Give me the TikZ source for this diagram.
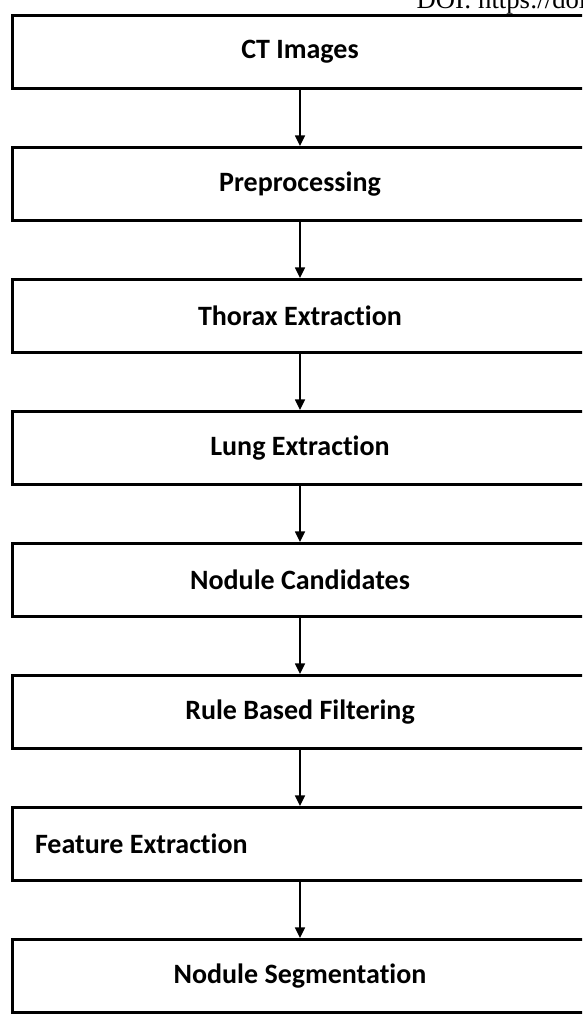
\documentclass[tikz,border=0pt]{standalone}
\usepackage{fontspec}
\setmainfont{Carlito}[Ligatures=NoCommon]
\newfontfamily\doifont{Liberation Serif}
\usetikzlibrary{positioning,arrows.meta}

\tikzset{
  stepbox/.style={draw, line width=2.25pt, minimum width=432pt, minimum height=54.75pt,
    inner sep=0pt, font=\fontsize{21}{25}\selectfont\bfseries},
  flow/.style={-{Triangle[width=7.5pt,length=8pt]}, line width=1.1pt}
}

\begin{document}
\begin{tikzpicture}[x=0.75pt,y=-0.75pt,node distance=42pt]
		\useasboundingbox (0,0) rectangle (582,1014);
		\clip (0,0) rectangle (582,1014);
		\node [anchor=base west, font=\doifont\fontsize{20}{20}\selectfont] (doi) at (412,8) {DOI: https://doi.org};
		\node [stepbox] (ct) at (300,52) {CT Images};
		\node [stepbox, below=of ct] (pre) {Preprocessing};
		\node [stepbox, below=of pre] (thorax) {Thorax Extraction};
		\node [stepbox, below=of thorax] (lung) {Lung Extraction};
		\node [stepbox, below=of lung] (cand) {Nodule Candidates};
		\node [stepbox, below=of cand] (rule) {Rule Based Filtering};
		\node [stepbox, below=of rule] (feat) {\makebox[397.5pt][l]{Feature Extraction}};
		\node [stepbox, below=of feat] (seg) {Nodule Segmentation};
		\foreach \a/\b in {ct/pre,pre/thorax,thorax/lung,lung/cand,cand/rule,rule/feat,feat/seg}{
			\draw [flow] (\a) -- (\b);
		}
\end{tikzpicture}
\end{document}
